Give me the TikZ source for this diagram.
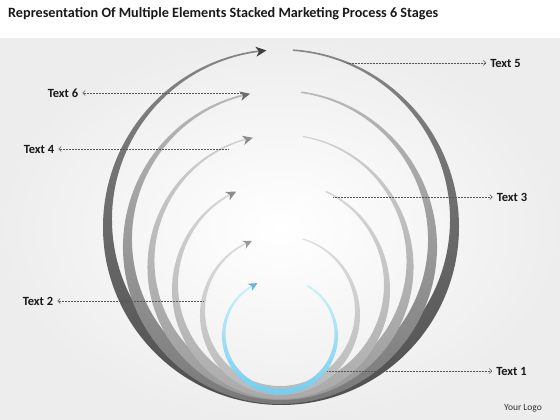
\documentclass[tikz,border=0pt]{standalone}
\usepackage{fontspec}
\setmainfont{Carlito}
\usetikzlibrary{arrows.meta,calc}
% ring: #1 cx, #2 cy, #3 R, #4 inner r, #5 inner cy, #6 start angle, #7 end angle, #8 top colour, #9 bottom colour
\newcommand\myring[9]{%
  \shade[top color=#8, bottom color=#9]
    ($(#1,#2)+(#6:#3)$) arc[start angle=#6, end angle=#7-360, radius=#3]
    -- ($(#1,#5)+(#7:#4)$) arc[start angle=#7-360, end angle=#6, radius=#4] -- cycle;}
% arrow head: #1 cx, #2 cy, #3 radius, #4 angle, #5 scale, #6 colour
\newcommand\myhead[6]{%
  \fill[#6, shift={($(#1,#2)+(#4:#3)$)}, rotate=#4-90, scale=#5]
    (7,0) -- (-3.5,5) -- (-0.5,0) -- (-3.5,-5) -- cycle;}
\definecolor{rsixT}{HTML}{858585}\definecolor{rsixB}{HTML}{4E4E4E}
\definecolor{rfivT}{HTML}{B8B8B8}\definecolor{rfivB}{HTML}{777777}
\definecolor{rfouT}{HTML}{D0D0D0}\definecolor{rfouB}{HTML}{979797}
\definecolor{rthrT}{HTML}{D6D6D6}\definecolor{rthrB}{HTML}{A6A6A6}
\definecolor{rtwoT}{HTML}{DCDCDC}\definecolor{rtwoB}{HTML}{B6B6B6}
\definecolor{roneT}{HTML}{CDEFFB}\definecolor{roneB}{HTML}{6CCBEF}
\definecolor{connc}{HTML}{555555}
\begin{document}
\begin{tikzpicture}[x=1pt,y=1pt,
  lbl/.style={font=\bfseries\fontsize{12.5}{14}\selectfont, text=black!90, inner sep=0pt},
  conn/.style={draw=connc, line width=0.5pt, densely dotted, -{Straight Barb[length=2.5pt,width=5pt]}, shorten >=4pt}]
\useasboundingbox (0,0) rectangle (560,420);
% background
\shade[inner color=white, outer color=black!7] (0,0) rectangle (560,382);
\fill[white] (0,382) rectangle (560,420);
\node[anchor=west, inner sep=0pt, font=\bfseries\fontsize{14.2}{16}\selectfont, text=black!90] (title) at (8,406) {Representation Of Multiple Elements Stacked Marketing Process 6 Stages};
% rings
\myring{281}{193}{178}{169}{200.5}{86}{97}{rsixT}{rsixB}
\myhead{281}{193}{177}{97}{1.0}{black!75}
\myring{280}{173}{157}{148}{180.5}{82}{103.5}{rfivT}{rfivB}
\myhead{280}{173}{156}{103.5}{0.95}{black!58}
\myring{280.5}{153}{133}{126}{159}{80}{105}{rfouT}{rfouB}
\myhead{280.5}{153}{132}{105}{0.95}{black!45}
\myring{281}{130}{109}{103}{135}{65}{118}{rthrT}{rthrB}
\myhead{281}{130}{108}{118}{0.95}{black!45}
\myring{280}{105}{80}{75}{109}{73}{115}{rtwoT}{rtwoB}
\myhead{280}{105}{79}{115}{0.85}{black!40}
\myring{280}{84}{58}{54.5}{86}{61}{119}{roneT}{roneB}
\myhead{280}{84}{57.2}{119}{0.85}{roneB!90!black}
% labels
\node[lbl] (t5) at (505.5,357) {Text 5};
\node[lbl] (t6) at (63,327) {Text 6};
\node[lbl] (t4) at (39,271) {Text 4};
\node[lbl] (t3) at (512,223) {Text 3};
\node[lbl] (t2) at (38,119) {Text 2};
\node[lbl] (t1) at (511.5,49) {Text 1};
\node[inner sep=0pt, font=\fontsize{9.5}{11}\selectfont, text=black!80] (logo) at (523,12) {Your Logo};
% connector free ends
\coordinate (c5) at (347,357);
\coordinate (c6) at (240,327);
\coordinate (c4) at (228,271);
\coordinate (c3) at (333,223);
\coordinate (c2) at (203,119);
\coordinate (c1) at (327,49);
\draw[conn] (c5) -- (t5.west);
\draw[conn] (c6) -- (t6.east);
\draw[conn] (c4) -- (t4.east);
\draw[conn] (c3) -- (t3.west);
\draw[conn] (c2) -- (t2.east);
\draw[conn] (c1) -- (t1.west);
\end{tikzpicture}
\end{document}
